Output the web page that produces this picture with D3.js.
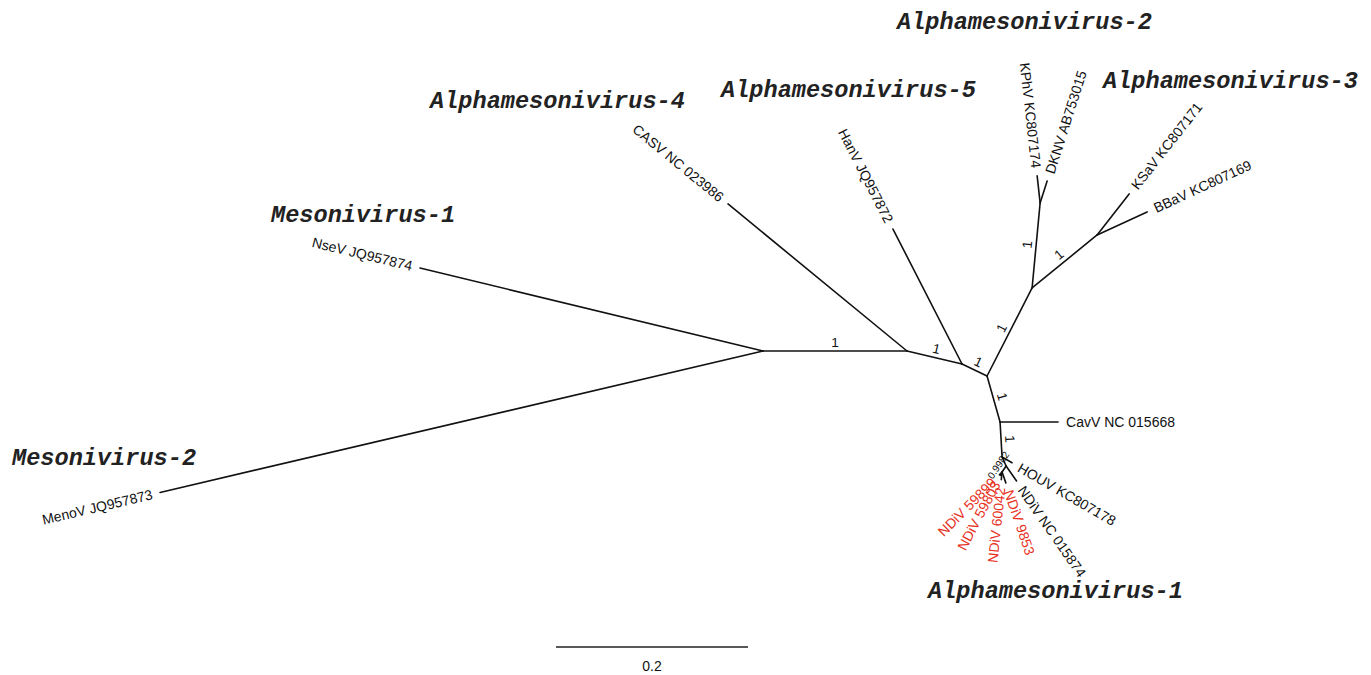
<!DOCTYPE html>
<html>
<head>
<meta charset="utf-8">
<script src="https://cdn.jsdelivr.net/npm/d3@7"></script>
<style>
  body { margin: 0; background: #fff; }
  svg { display: block; }
</style>
</head>
<body>
<svg id="chart" width="1371" height="675"></svg>
<script>
// Unrooted tree: each branch = child, parent, length (subst./site), angle (deg, 0 = right, clockwise)
const branchChild  = ['NseV', 'MenoV', 'B', 'CASV', 'C', 'HanV', 'D', 'E', 'F', 'KPhV', 'DKNV', 'G', 'KSaV', 'BBaV',
                      'H', 'CavV', 'I', 'HOUV', 'J', 'NDiVNC', 'K', 'N59899', 'N59803', 'N60042', 'N9853'];
const branchParent = ['A', 'A', 'A', 'B', 'B', 'C', 'C', 'D', 'E', 'F', 'F', 'E', 'G', 'G',
                      'D', 'H', 'H', 'I', 'I', 'J', 'J', 'K', 'K', 'K', 'K'];
const branchLength = [0.3676, 0.6451, 0.1500, 0.2413, 0.0589, 0.1579, 0.0289, 0.1030, 0.0890, 0.0283, 0.0240, 0.0874, 0.0542, 0.0573,
                      0.0498, 0.0604, 0.0365, 0.0120, 0.0103, 0.0190, 0.0075, 0.0040, 0.0040, 0.0080, 0.0120];
const branchAngle  = [-166.4, 166.8, 0, -140.6, 13.3, -117.1, 25.6, -62.9, -84.6, -96.3, -72.3, -39.2, -52, -24.7,
                      74.2, 0, 86.7, 30, 66, 55, 124, 135, 118, 96, 71];
const branchSupport = ['', '', '1', '', '1', '', '1', '1', '1', '', '', '1', '', '',
                       '1', '', '1', '', '', '', '0.9982', '', '', '', ''];

const tipIds    = ['NseV', 'MenoV', 'CASV', 'HanV', 'KPhV', 'DKNV', 'KSaV', 'BBaV', 'CavV', 'HOUV', 'NDiVNC',
                   'N59899', 'N59803', 'N60042', 'N9853'];
const tipLabels = ['NseV JQ957874', 'MenoV JQ957873', 'CASV NC 023986', 'HanV JQ957872', 'KPhV KC807174', 'DKNV AB753015',
                   'KSaV KC807171', 'BBaV KC807169', 'CavV NC 015668', 'HOUV KC807178', 'NDiV NC 015874',
                   'NDiV 59899', 'NDiV 59803', 'NDiV 60042', 'NDiV 9853'];
const newIsolates = ['N59899', 'N59803', 'N60042', 'N9853'];

const cladeNames = ['Alphamesonivirus-2', 'Alphamesonivirus-3', 'Alphamesonivirus-5', 'Alphamesonivirus-4',
                    'Mesonivirus-1', 'Mesonivirus-2', 'Alphamesonivirus-1'];
const scaleBarValue = 0.2;

// layout
const cladeXY = [[897, 29], [1103, 88], [721, 97], [430, 108], [271, 222], [12, 465], [928, 598]];
const root = { x: 763, y: 351 };
const pxPerUnit = 960;
const labelGap = 8;

const svg = d3.select('#chart');

const xScale = d3.scaleLinear().domain([0, 1]).range([root.x, root.x + pxPerUnit]);
const yScale = d3.scaleLinear().domain([0, 1]).range([root.y, root.y + pxPerUnit]);
const lenScale = d3.scaleLinear().domain([0, 1]).range([0, pxPerUnit]);

// walk branches (parents listed before children)
const pos = { A: { x: 0, y: 0 } };
const branches = branchChild.map((child, i) => {
  const p = pos[branchParent[i]];
  const a = branchAngle[i] * Math.PI / 180;
  pos[child] = { x: p.x + branchLength[i] * Math.cos(a), y: p.y + branchLength[i] * Math.sin(a) };
  return { child, parent: branchParent[i], angle: branchAngle[i], support: branchSupport[i] };
});

const g = svg.append('g');

g.selectAll('line.branch')
  .data(branches)
  .join('line')
  .attr('class', 'branch')
  .attr('x1', d => xScale(pos[d.parent].x))
  .attr('y1', d => yScale(pos[d.parent].y))
  .attr('x2', d => xScale(pos[d.child].x))
  .attr('y2', d => yScale(pos[d.child].y))
  .attr('stroke', '#111')
  .attr('stroke-width', 1.6)
  .attr('stroke-linecap', 'round');

// support values, along the branch, on its "upper" side
const supports = branches.filter(d => d.support !== '');
g.selectAll('text.support')
  .data(supports)
  .join('text')
  .attr('class', 'support')
  .attr('transform', d => {
    const th = d.angle * Math.PI / 180;
    const flip = Math.abs(d.angle) > 90;
    const s = flip ? -1 : 1;
    const off = d.support === '1' ? 9 : 7;
    const mx = (xScale(pos[d.parent].x) + xScale(pos[d.child].x)) / 2 + s * off * Math.sin(th);
    const my = (yScale(pos[d.parent].y) + yScale(pos[d.child].y)) / 2 - s * off * Math.cos(th);
    return `translate(${mx},${my}) rotate(${flip ? d.angle + 180 : d.angle})`;
  })
  .attr('text-anchor', 'middle')
  .attr('dy', '0.35em')
  .attr('font-family', '"Liberation Sans", Arial, sans-serif')
  .attr('font-size', d => d.support === '1' ? 13.5 : 10)
  .attr('fill', '#111')
  .text(d => d.support);

// tip labels
const tips = tipIds.map((id, i) => ({ id, label: tipLabels[i], angle: branchAngle[branchChild.indexOf(id)] }));
g.selectAll('text.tip')
  .data(tips)
  .join('text')
  .attr('class', 'tip')
  .attr('transform', d => {
    const th = d.angle * Math.PI / 180;
    const flip = Math.abs(d.angle) > 90;
    const tx = xScale(pos[d.id].x) + labelGap * Math.cos(th);
    const ty = yScale(pos[d.id].y) + labelGap * Math.sin(th);
    return `translate(${tx},${ty}) rotate(${flip ? d.angle + 180 : d.angle})`;
  })
  .attr('text-anchor', d => Math.abs(d.angle) > 90 ? 'end' : 'start')
  .attr('dy', '0.35em')
  .attr('font-family', '"Liberation Sans", Arial, sans-serif')
  .attr('font-size', 14)
  .attr('fill', d => newIsolates.includes(d.id) ? '#e8321f' : '#111')
  .text(d => d.label);

// clade names
svg.selectAll('text.clade')
  .data(cladeNames)
  .join('text')
  .attr('class', 'clade')
  .attr('x', (d, i) => cladeXY[i][0])
  .attr('y', (d, i) => cladeXY[i][1])
  .attr('font-family', '"Liberation Mono", "Courier New", monospace')
  .attr('font-weight', 'bold')
  .attr('font-style', 'italic')
  .attr('font-size', 23.6)
  .attr('fill', '#222')
  .text(d => d);

// scale bar
const barX = 556, barY = 647;
svg.append('line')
  .attr('x1', barX)
  .attr('x2', barX + lenScale(scaleBarValue))
  .attr('y1', barY)
  .attr('y2', barY)
  .attr('stroke', '#222')
  .attr('stroke-width', 1.5);

svg.append('text')
  .attr('x', barX + lenScale(scaleBarValue) / 2)
  .attr('y', barY + 24)
  .attr('text-anchor', 'middle')
  .attr('font-family', '"Liberation Sans", Arial, sans-serif')
  .attr('font-size', 14)
  .attr('fill', '#111')
  .text(d3.format('.1f')(scaleBarValue));
</script>
</body>
</html>
